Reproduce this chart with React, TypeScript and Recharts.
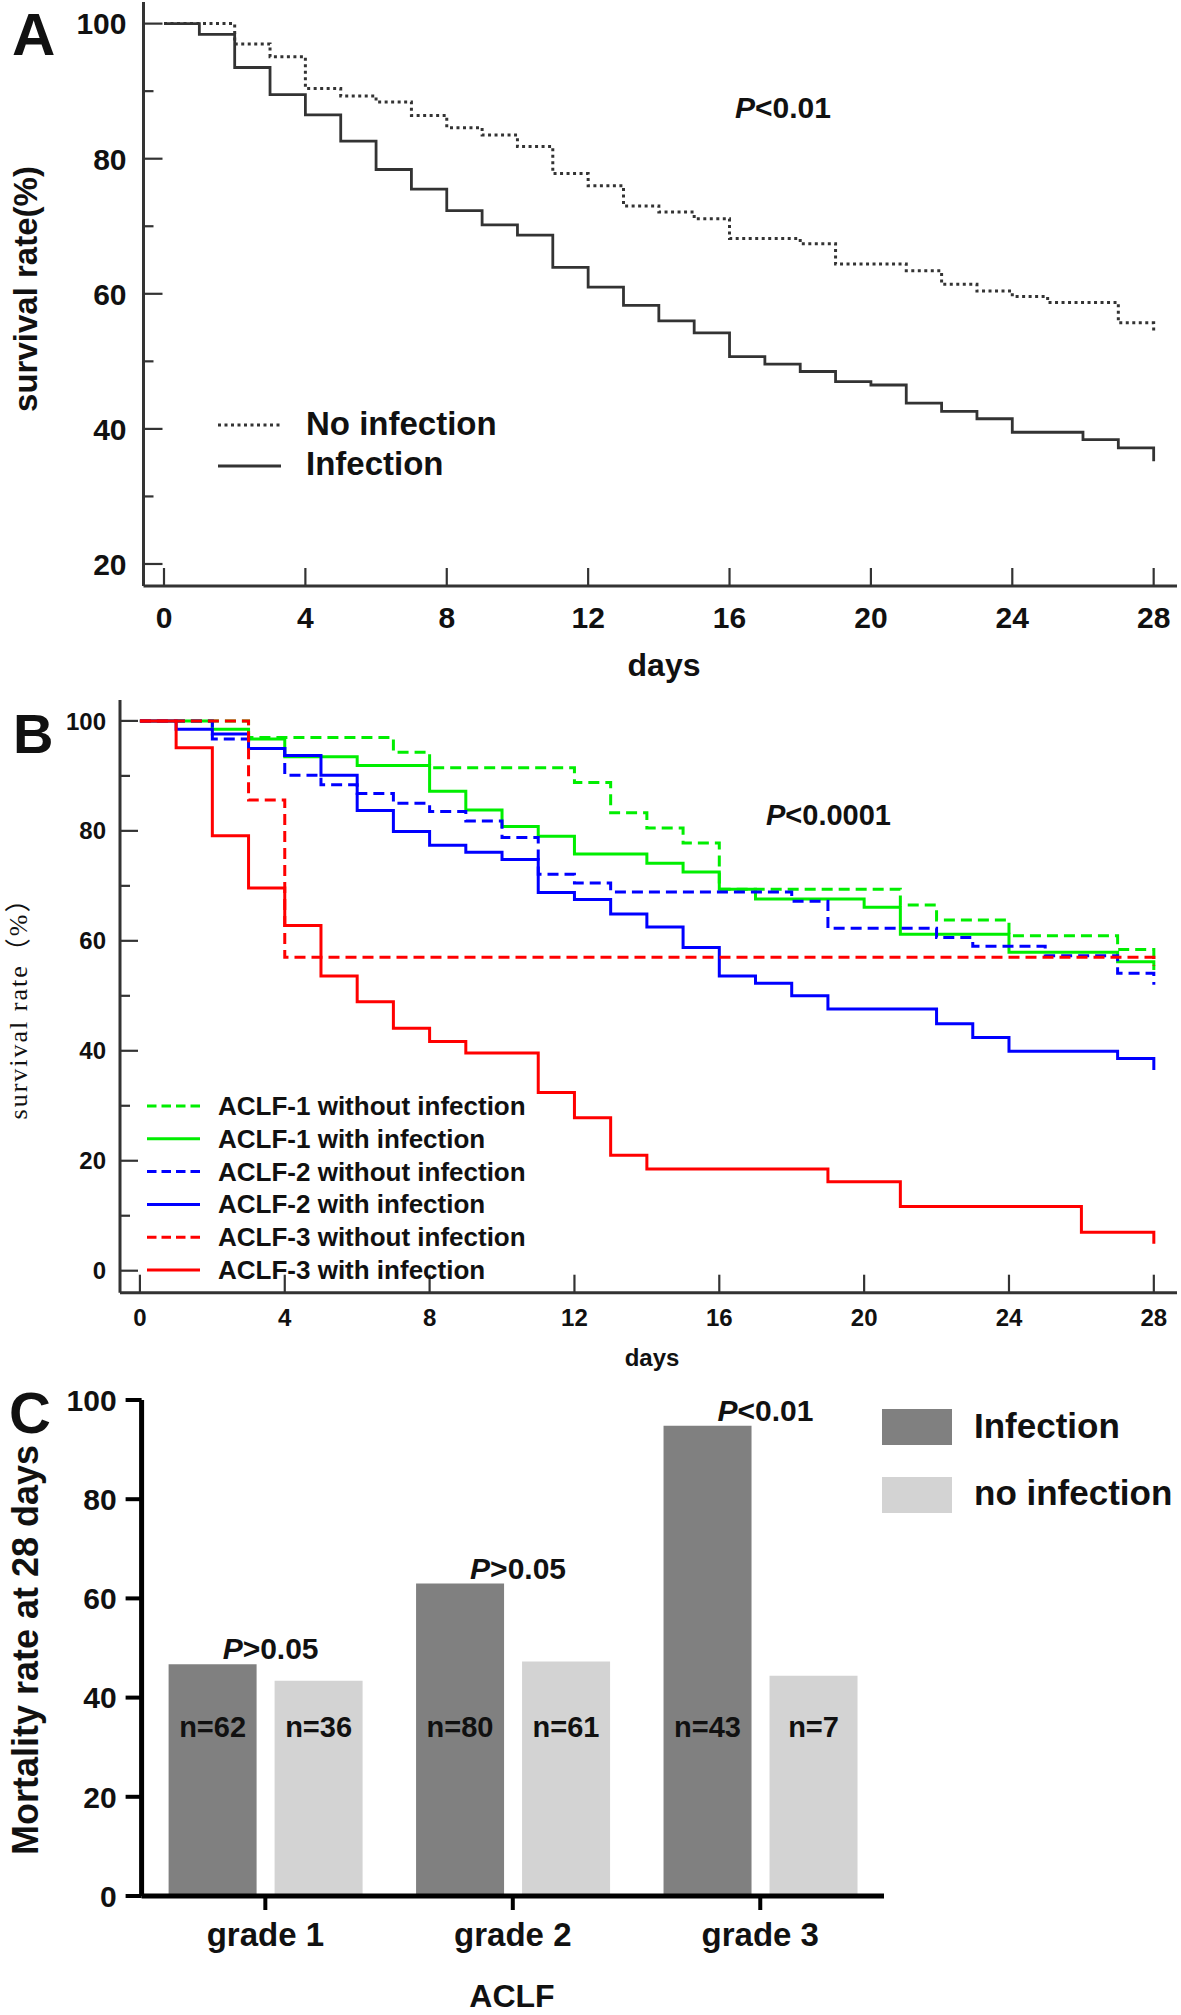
import React from "react";
import { LineChart, Line, XAxis, YAxis, BarChart, Bar, LabelList } from "recharts";

// ---- panel A: overall survival ----
const days = [0, 1, 2, 3, 4, 5, 6, 7, 8, 9, 10, 11, 12, 13, 14, 15, 16, 17, 18, 19, 20, 21, 22, 23, 24, 25, 26, 27, 28];
const noInfection = [100, 100, 97.0, 95.1, 90.4, 89.3, 88.4, 86.4, 84.6, 83.5, 81.8, 77.8, 76.0, 73.0, 72.1, 71.1, 68.2, 68.2, 67.4, 64.4, 64.4, 63.4, 61.4, 60.4, 59.6, 58.7, 58.7, 55.7, 54.1];
const infection = [100, 98.4, 93.5, 89.5, 86.5, 82.6, 78.4, 75.5, 72.3, 70.2, 68.7, 63.9, 61.0, 58.3, 56.0, 54.2, 50.7, 49.6, 48.5, 47.0, 46.5, 43.8, 42.6, 41.5, 39.5, 39.5, 38.4, 37.2, 35.2];

// ---- panel B: survival by ACLF grade ----
const aclf1Without = [100, 100, 100, 97.0, 97.0, 97.0, 97.0, 94.3, 91.5, 91.5, 91.5, 91.5, 88.8, 83.3, 80.5, 77.8, 69.4, 69.4, 69.4, 69.4, 69.4, 66.5, 63.8, 63.8, 60.9, 60.9, 60.9, 58.4, 56.5];
const aclf1With = [100, 100, 98.5, 96.7, 93.5, 93.5, 91.9, 91.9, 87.2, 83.8, 80.8, 79.0, 75.8, 75.8, 74.1, 72.5, 69.4, 67.6, 67.6, 67.6, 66.1, 61.2, 61.2, 61.2, 57.9, 57.9, 57.9, 56.2, 54.7];
const aclf2Without = [100, 100, 96.7, 95.0, 90.1, 88.4, 86.8, 85.0, 83.5, 81.8, 78.8, 72.1, 70.5, 68.9, 68.9, 68.9, 68.9, 68.9, 67.2, 62.3, 62.3, 62.3, 60.6, 59.0, 59.0, 57.3, 57.3, 54.1, 52.0];
const aclf2With = [100, 98.5, 97.6, 95.0, 93.7, 90.1, 83.7, 79.9, 77.4, 76.1, 74.8, 68.8, 67.5, 64.9, 62.5, 58.8, 53.6, 52.3, 50.0, 47.6, 47.6, 47.6, 44.9, 42.4, 39.9, 39.9, 39.9, 38.6, 36.5];
const aclf3Without = [100, 100, 100, 85.6, 57.0, 57.0, 57.0, 57.0, 57.0, 57.0, 57.0, 57.0, 57.0, 57.0, 57.0, 57.0, 57.0, 57.0, 57.0, 57.0, 57.0, 57.0, 57.0, 57.0, 57.0, 57.0, 57.0, 57.0, 55.5];
const aclf3With = [100, 95.1, 79.1, 69.6, 62.8, 53.6, 48.9, 44.1, 41.7, 39.6, 39.6, 32.4, 27.8, 21.0, 18.5, 18.5, 18.5, 18.5, 18.5, 16.2, 16.2, 11.7, 11.7, 11.7, 11.7, 11.7, 7.0, 7.0, 4.9];

// ---- panel C: 28-day mortality ----
const grades = ["grade 1", "grade 2", "grade 3"];
const mortInfection = [46.7, 63.0, 94.8];
const mortNoInfection = [43.4, 47.3, 44.4];
const nInfection = ["n=62", "n=80", "n=43"];
const nNoInfection = ["n=36", "n=61", "n=7"];
const pValues = ["P>0.05", "P>0.05", "P<0.01"];

const dayTicks = [0, 4, 8, 12, 16, 20, 24, 28];
const ticksA = [20, 30, 40, 50, 60, 70, 80, 90, 100];
const ticksB = [0, 10, 20, 30, 40, 50, 60, 70, 80, 90, 100];
const ticksC = [0, 20, 40, 60, 80, 100];

const dataA = days.map((d, i) => ({ day: d, noInf: noInfection[i], inf: infection[i] }));
const dataB = days.map((d, i) => ({
  day: d,
  a1w: aclf1Without[i],
  a1i: aclf1With[i],
  a2w: aclf2Without[i],
  a2i: aclf2With[i],
  a3w: aclf3Without[i],
  a3i: aclf3With[i],
}));
const dataC = grades.map((g, i) => ({
  grade: g,
  inf: mortInfection[i],
  noInf: mortNoInfection[i],
  nInf: nInfection[i],
  nNoInf: nNoInfection[i],
  p: pValues[i],
}));

const seriesA = [
  { key: "noInf", label: "No infection", dash: "3 3.5" },
  { key: "inf", label: "Infection", dash: undefined },
];

const GREEN = "#00ee00";
const BLUE = "#0000ff";
const RED = "#ff0000";
const seriesB = [
  { key: "a1w", label: "ACLF-1 without infection", color: GREEN, dash: "11 6" },
  { key: "a1i", label: "ACLF-1 with infection", color: GREEN, dash: undefined },
  { key: "a2w", label: "ACLF-2 without infection", color: BLUE, dash: "11 6" },
  { key: "a2i", label: "ACLF-2 with infection", color: BLUE, dash: undefined },
  { key: "a3w", label: "ACLF-3 without infection", color: RED, dash: "11 6" },
  { key: "a3i", label: "ACLF-3 with infection", color: RED, dash: undefined },
];

const FONT = "'Liberation Sans', Arial, Helvetica, sans-serif";
const INK = "#111";
const GREY = "#333";

// ticks drawn inward (up) with labels below the axis
function xTickInward(props: any, len: number, labelDy: number, size: number) {
  const { x, y, payload } = props;
  return (
    <g>
      <line x1={x} x2={x} y1={y} y2={y - len} stroke={GREY} strokeWidth={2.2} />
      <text x={x} y={y + labelDy} textAnchor="middle" fontFamily={FONT} fontWeight="bold" fontSize={size} fill={INK}>
        {payload.value}
      </text>
    </g>
  );
}

// ticks drawn inward (right), minor ticks shorter and unlabeled
function yTickInward(props: any, major: number, minor: number, gap: number, size: number) {
  const { x, y, payload } = props;
  const isMajor = payload.value % 20 === 0;
  return (
    <g>
      <line x1={x} x2={x + (isMajor ? major : minor)} y1={y} y2={y} stroke={GREY} strokeWidth={2.2} />
      {isMajor && (
        <text x={x - gap} y={y + size * 0.36} textAnchor="end" fontFamily={FONT} fontWeight="bold" fontSize={size} fill={INK}>
          {payload.value}
        </text>
      )}
    </g>
  );
}

function PanelA() {
  return (
    <div style={{ position: "absolute", left: 0, top: 0 }}>
      <LineChart width={1181} height={700} data={dataA} margin={{ top: 2, right: 4, bottom: 54, left: 83.5 }}>
        <XAxis
          dataKey="day"
          type="number"
          domain={[-0.58, 28.66]}
          ticks={dayTicks}
          interval={0}
          allowDataOverflow
          height={60}
          tickSize={0}
          tickMargin={0}
          tickLine={false}
          axisLine={{ stroke: GREY, strokeWidth: 3 }}
          tick={(p: any) => xTickInward(p, 18, 42, 30)}
        />
        <YAxis
          type="number"
          domain={[16.74, 103.2]}
          ticks={ticksA}
          interval={0}
          allowDataOverflow
          width={60}
          tickSize={0}
          tickMargin={0}
          tickLine={false}
          axisLine={{ stroke: GREY, strokeWidth: 3 }}
          tick={(p: any) => yTickInward(p, 19, 10, 17, 30)}
        />
        {seriesA.map((s) => (
          <Line
            key={s.key}
            dataKey={s.key}
            type="stepAfter"
            stroke={GREY}
            strokeWidth={s.dash ? 3 : 2.8}
            strokeDasharray={s.dash}
            dot={false}
            activeDot={false}
            isAnimationActive={false}
          />
        ))}
      </LineChart>
    </div>
  );
}

function PanelB() {
  return (
    <div style={{ position: "absolute", left: 0, top: 690 }}>
      <LineChart width={1181} height={690} data={dataB} margin={{ top: 10, right: 4, bottom: 27.3, left: 60 }}>
        <XAxis
          dataKey="day"
          type="number"
          domain={[-0.55, 28.64]}
          ticks={dayTicks}
          interval={0}
          allowDataOverflow
          height={60}
          tickSize={0}
          tickMargin={0}
          tickLine={false}
          axisLine={{ stroke: GREY, strokeWidth: 3 }}
          tick={(p: any) => xTickInward(p, 18, 33, 24)}
        />
        <YAxis
          type="number"
          domain={[-4, 103.8]}
          ticks={ticksB}
          interval={0}
          allowDataOverflow
          width={60}
          tickSize={0}
          tickMargin={0}
          tickLine={false}
          axisLine={{ stroke: GREY, strokeWidth: 3 }}
          tick={(p: any) => yTickInward(p, 18, 10, 14, 24)}
        />
        {seriesB.map((s) => (
          <Line
            key={s.key}
            dataKey={s.key}
            type="stepAfter"
            stroke={s.color}
            strokeWidth={3}
            strokeDasharray={s.dash}
            dot={false}
            activeDot={false}
            isAnimationActive={false}
          />
        ))}
      </LineChart>
    </div>
  );
}

function box(props: any) {
  const vb = props.viewBox && props.viewBox.width !== undefined ? props.viewBox : props;
  return { x: Number(vb.x), y: Number(vb.y), width: Number(vb.width), height: Number(vb.height) };
}

const NLabel = (props: any) => {
  const { x, y, width, height } = box(props);
  return (
    <text x={x + width / 2} y={y + height - 159} textAnchor="middle" fontFamily={FONT} fontWeight="bold" fontSize={29} fill={INK}>
      {props.value}
    </text>
  );
};

const PLabel = (props: any) => {
  const { x, y, width } = box(props);
  const v = String(props.value);
  return (
    <text x={x + width + 14} y={y - 5} textAnchor="middle" fontFamily={FONT} fontWeight="bold" fontSize={30} fill={INK}>
      <tspan fontStyle="italic">{v.slice(0, 1)}</tspan>
      <tspan>{v.slice(1)}</tspan>
    </text>
  );
};

function PanelC() {
  return (
    <div style={{ position: "absolute", left: 0, top: 1380 }}>
      <BarChart
        width={1181}
        height={635}
        data={dataC}
        margin={{ top: 20, right: 297, bottom: 19, left: 81.6 }}
        barCategoryGap={27}
        barGap={18}
      >
        <XAxis
          dataKey="grade"
          height={100}
          interval={0}
          tickSize={0}
          tickMargin={0}
          tickLine={false}
          axisLine={{ stroke: "#000", strokeWidth: 5 }}
          tick={(p: any) => (
            <g>
              <line x1={p.x} x2={p.x} y1={p.y} y2={p.y + 14} stroke="#000" strokeWidth={4} />
              <text x={p.x} y={p.y + 50} textAnchor="middle" fontFamily={FONT} fontWeight="bold" fontSize={33} fill={INK}>
                {p.payload.value}
              </text>
            </g>
          )}
        />
        <YAxis
          type="number"
          domain={[0, 100]}
          ticks={ticksC}
          interval={0}
          width={60}
          tickSize={0}
          tickMargin={0}
          tickLine={false}
          axisLine={{ stroke: "#000", strokeWidth: 5 }}
          tick={(p: any) => (
            <g>
              <line x1={p.x} x2={p.x - 16} y1={p.y} y2={p.y} stroke="#000" strokeWidth={4} />
              <text x={p.x - 25} y={p.y + 10.8} textAnchor="end" fontFamily={FONT} fontWeight="bold" fontSize={30} fill={INK}>
                {p.payload.value}
              </text>
            </g>
          )}
        />
        <Bar dataKey="inf" fill="#808080" isAnimationActive={false}>
          <LabelList dataKey="nInf" content={NLabel} />
          <LabelList dataKey="p" content={PLabel} />
        </Bar>
        <Bar dataKey="noInf" fill="#d3d3d3" isAnimationActive={false}>
          <LabelList dataKey="nNoInf" content={NLabel} />
        </Bar>
      </BarChart>
    </div>
  );
}

// titles, panel letters, legends and p-values
function Overlay() {
  const bold = { fontFamily: FONT, fontWeight: "bold" as const, fill: INK };
  return (
    <svg width={1181} height={2015} style={{ position: "absolute", left: 0, top: 0, pointerEvents: "none" }}>
      {/* A */}
      <text x={12} y={55} fontSize={60} {...bold}>A</text>
      <text transform="translate(37,289) rotate(-90)" textAnchor="middle" fontSize={33} {...bold}>survival rate(%)</text>
      <text x={664} y={676} textAnchor="middle" fontSize={32} {...bold}>days</text>
      <text x={735} y={118} fontSize={30} {...bold}>
        <tspan fontStyle="italic">P</tspan>
        <tspan>{"<0.01"}</tspan>
      </text>
      {seriesA.map((s, i) => (
        <g key={s.key}>
          <line x1={218} x2={281} y1={425 + i * 41} y2={425 + i * 41} stroke={GREY} strokeWidth={3} strokeDasharray={s.dash} />
          <text x={306} y={435 + i * 40} fontSize={33} {...bold}>{s.label}</text>
        </g>
      ))}

      {/* B */}
      <text x={13} y={753} fontSize={56} {...bold}>B</text>
      <text
        transform="translate(27,1002) rotate(-90)"
        textAnchor="middle"
        fontSize={26}
        letterSpacing={2}
        fontFamily="'Liberation Serif', 'Noto Sans CJK SC', serif"
        fill={INK}
      >
        survival rate（%）
      </text>
      <text x={652} y={1366} textAnchor="middle" fontSize={24} {...bold}>days</text>
      <text x={766} y={825} fontSize={29} {...bold}>
        <tspan fontStyle="italic">P</tspan>
        <tspan>{"<0.0001"}</tspan>
      </text>
      {seriesB.map((s, i) => (
        <g key={s.key}>
          <line x1={147} x2={200} y1={1106 + i * 32.8} y2={1106 + i * 32.8} stroke={s.color} strokeWidth={3} strokeDasharray={s.dash ? "9.5 5" : undefined} />
          <text x={218} y={1115 + i * 32.8} fontSize={26} {...bold}>{s.label}</text>
        </g>
      ))}

      {/* C */}
      <text x={9} y={1433} fontSize={58} {...bold}>C</text>
      <text transform="translate(38,1650) rotate(-90)" textAnchor="middle" fontSize={36} {...bold}>Mortality rate at 28 days</text>
      <text x={512} y={2007} textAnchor="middle" fontSize={32} {...bold}>ACLF</text>
      <rect x={882} y={1409} width={70} height={36} fill="#808080" />
      <text x={974} y={1438} fontSize={35} {...bold}>Infection</text>
      <rect x={882} y={1477} width={70} height={36} fill="#d3d3d3" />
      <text x={974} y={1505} fontSize={35} {...bold}>no infection</text>
    </svg>
  );
}

export default function App() {
  return (
    <div style={{ position: "absolute", left: 0, top: 0, width: 1181, height: 2015, background: "#fff" }}>
      <PanelA />
      <PanelB />
      <PanelC />
      <Overlay />
    </div>
  );
}
